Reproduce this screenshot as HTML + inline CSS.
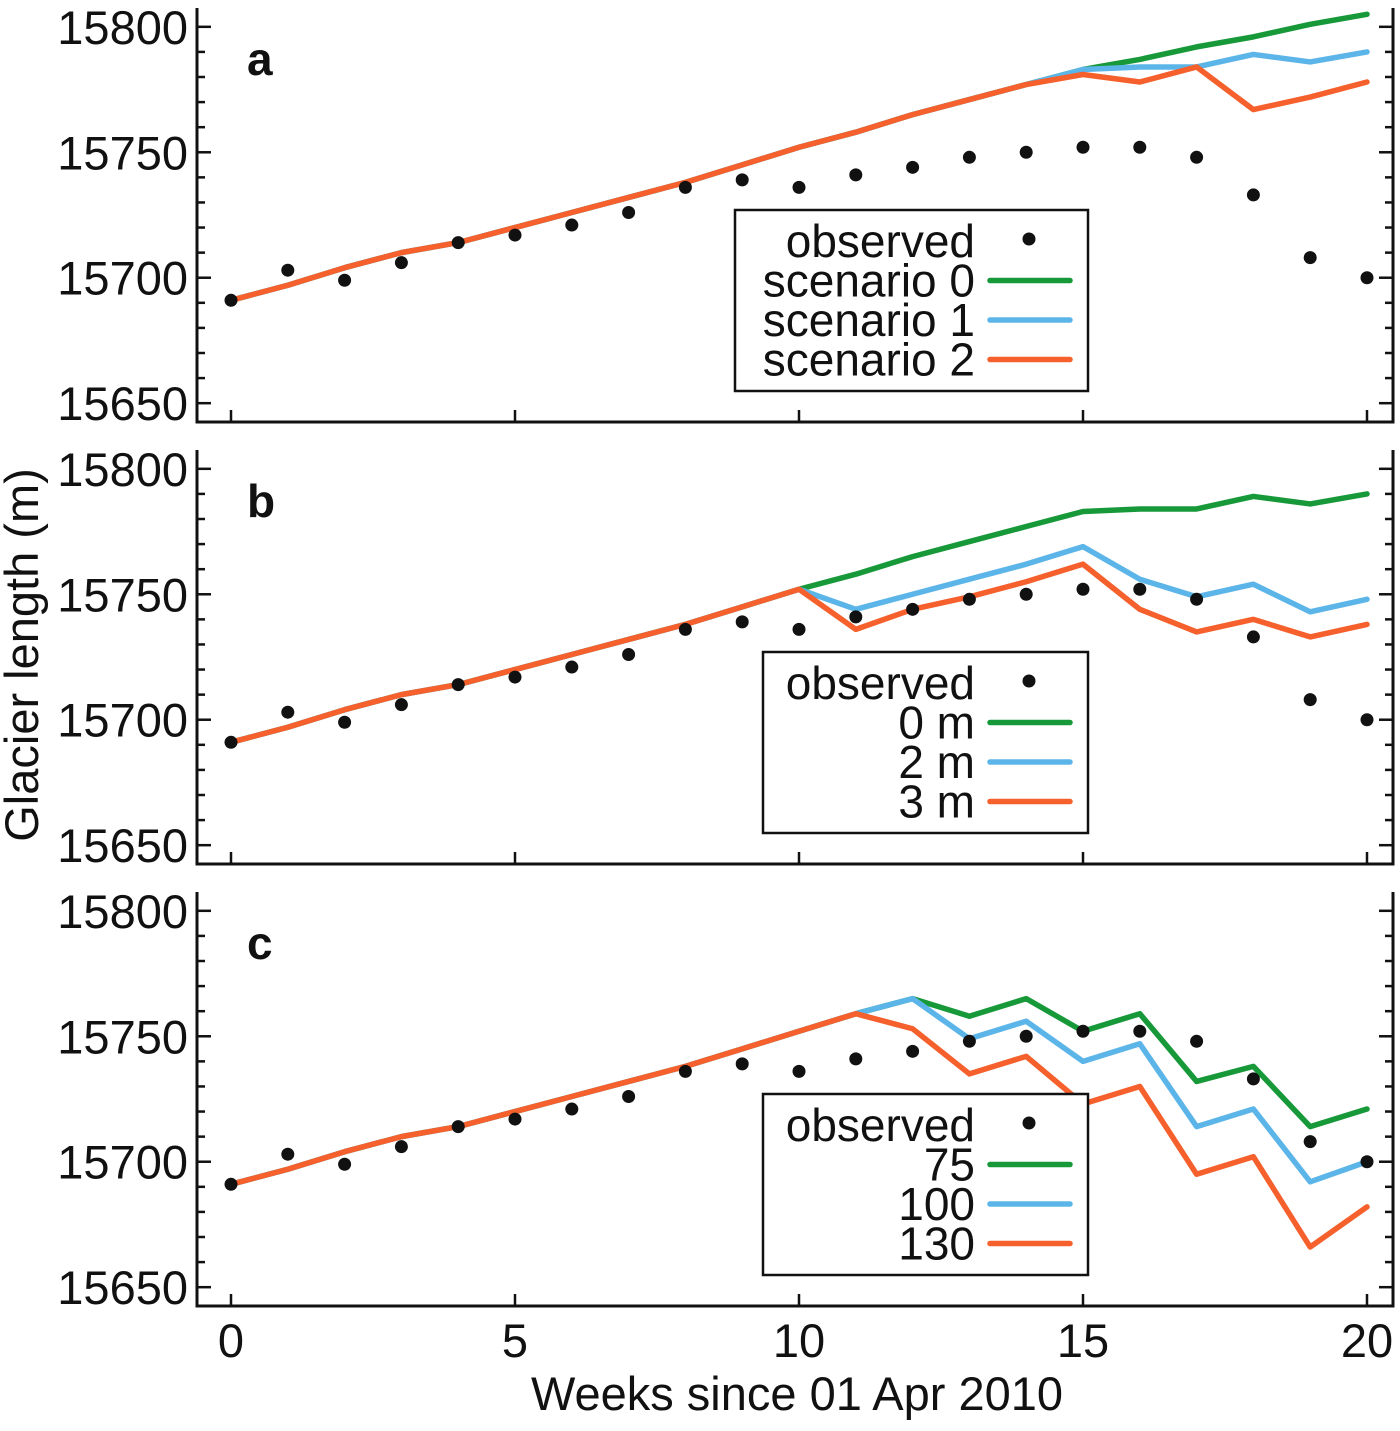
<!DOCTYPE html>
<html><head><meta charset="utf-8"><style>
body{margin:0;background:#fff}
svg text{font-family:"Liberation Sans",sans-serif;fill:#111}
</style></head><body>
<svg id="chart" width="1400" height="1426" xmlns="http://www.w3.org/2000/svg"></svg>
<script>
const weeks=[0,1,2,3,4,5,6,7,8,9,10,11,12,13,14,15,16,17,18,19,20];
const observed=[15691,15703,15699,15706,15714,15717,15721,15726,15736,15739,15736,15741,15744,15748,15750,15752,15752,15748,15733,15708,15700];
const base=[15691,15697,15704,15710,15714,15720,15726,15732,15738,15745,15752];
const aScen0=[15758,15765,15771,15777,15783,15787,15792,15796,15801,15805];
const aScen1=[15758,15765,15771,15777,15783,15784,15784,15789,15786,15790];
const aScen2=[15758,15765,15771,15777,15781,15778,15784,15767,15772,15778];
const b0m=[15758,15765,15771,15777,15783,15784,15784,15789,15786,15790];
const b2m=[15744,15750,15756,15762,15769,15756,15749,15754,15743,15748];
const b3m=[15736,15744,15749,15755,15762,15744,15735,15740,15733,15738];
const c75=[15759,15765,15758,15765,15752,15759,15732,15738,15714,15721];
const c100=[15759,15765,15749,15756,15740,15747,15714,15721,15692,15700];
const c130=[15759,15753,15735,15742,15723,15730,15695,15702,15666,15682];
const yTicks=[15650,15700,15750,15800];
const xTicks=[0,5,10,15,20];
const colors=['#17993a','#5cb5e8','#f5602c'];
const panels=[
 {label:'a',top:8,series:[aScen0,aScen1,aScen2],names:['scenario 0','scenario 1','scenario 2'],leg:[735,210]},
 {label:'b',top:450,series:[b0m,b2m,b3m],names:['0 m','2 m','3 m'],leg:[763,652]},
 {label:'c',top:892,series:[c75,c100,c130],names:['75','100','130'],leg:[763,1094]}
];
const NS='http://www.w3.org/2000/svg';
const svg=document.getElementById('chart');
function mk(t,a,p){const e=document.createElementNS(NS,t);for(const k in a)e.setAttribute(k,a[k]);(p||svg).appendChild(e);return e;}
const L=197,R=1393,H=414,ymin=15642.5,ymax=15807.5;
const xs=w=>231+w*(1367-231)/20;
panels.forEach((p,pi)=>{
 const ys=v=>p.top+(ymax-v)/(ymax-ymin)*H;
 const g=mk('g',{});
 
 
 const B=p.top+H;
 mk('path',{d:`M${L},${p.top}V${B}H${R}V${p.top}`,fill:'none',stroke:'#111','stroke-width':3},g);
 for(let v=15650;v<=15800;v+=10){
  const y=ys(v),maj=v%50===0,len=maj?14:8;
  mk('line',{x1:L,x2:L+len,y1:y,y2:y,stroke:'#111','stroke-width':2.5},g);
  mk('line',{x1:R,x2:R-len,y1:y,y2:y,stroke:'#111','stroke-width':2.5},g);
 }
 yTicks.forEach(v=>{const t=mk('text',{x:188,y:ys(v)+17,'text-anchor':'end','font-size':47},g);t.textContent=v;
  });
 xTicks.forEach(w=>{mk('line',{x1:xs(w),x2:xs(w),y1:B,y2:B-12,stroke:'#111','stroke-width':2.5},g);});
 const lab=mk('text',{x:247,y:p.top+67,'font-size':46,'font-weight':'bold'},g);lab.textContent=p.label;
 
 p.series.forEach((s,si)=>{
  const vals=base.concat(s);
  const pts=vals.map((v,i)=>xs(weeks[i])+','+ys(v)).join(' ');
  const pl=mk('polyline',{points:pts,fill:'none',stroke:colors[si],'stroke-width':5.5,'stroke-linejoin':'round','stroke-linecap':'round'},g);
  
  
 });
 observed.forEach((v,i)=>{const c=mk('circle',{cx:xs(weeks[i]),cy:ys(v),r:6.5,fill:'#111'},g);
  });
 const [lx,ly]=p.leg;
 const lg=mk('g',{},g);
 
 
 mk('rect',{x:lx,y:ly,width:1088-lx,height:181,fill:'#fff',stroke:'#111','stroke-width':2.5},lg);
 const rows=['observed'].concat(p.names);
 rows.forEach((n,ri)=>{
  const cy=ly+31+ri*39.5;
  const t=mk('text',{x:975,y:cy+16,'text-anchor':'end','font-size':46},lg);t.textContent=n;
  
  if(ri===0)mk('circle',{cx:1029,cy:cy-2,r:6.5,fill:'#111'},lg);
  else mk('line',{x1:990,x2:1070,y1:cy,y2:cy,stroke:colors[ri-1],'stroke-width':5.5,'stroke-linecap':'round'},lg);
 });
});
xTicks.forEach(w=>{const t=mk('text',{x:xs(w),y:1357,'text-anchor':'middle','font-size':47});t.textContent=w;
 });
const xt=mk('text',{x:797,y:1410,'text-anchor':'middle','font-size':47});xt.textContent='Weeks since 01 Apr 2010';

const yt=mk('text',{x:0,y:0,'text-anchor':'middle','font-size':47,transform:'translate(38,655) rotate(-90)'});yt.textContent='Glacier length (m)';

</script>
</body></html>
